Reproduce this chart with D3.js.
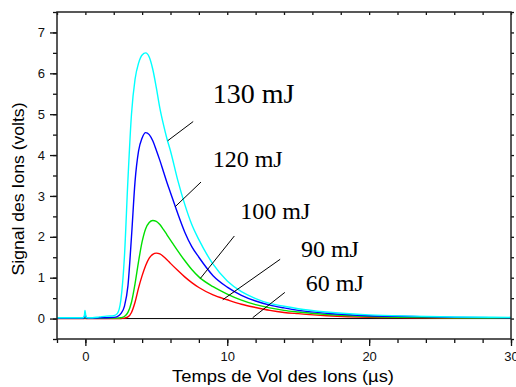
<!DOCTYPE html>
<html>
<head>
<meta charset="utf-8">
<script src="https://cdn.jsdelivr.net/npm/d3@7"></script>
<style>
  body { margin: 0; background: #fff; }
  svg { display: block; }
</style>
</head>
<body>
<div id="chart"></div>
<script>
// temps de vol (µs)
const temps = [-2, -1, -0.2, -0.08, -0.03, 0.05, 0.2, 0.5, 1, 1.5, 2, 2.25, 2.5, 2.75, 3, 3.25, 3.5, 3.75, 4, 4.25, 4.5, 4.75, 5, 5.25, 5.5, 5.75, 6, 6.5, 7, 7.5, 8, 9, 10, 11, 12, 13, 14, 15, 17, 20, 23, 26, 30];

// signaux (volts), un tableau par courbe
const signalRouge = [0, 0, 0, 0, 0.02, 0, 0, 0, 0, 0, 0, 0, 0, 0.01, 0.04, 0.15, 0.4, 0.75, 1.05, 1.3, 1.48, 1.57, 1.6, 1.58, 1.52, 1.44, 1.35, 1.18, 1.02, 0.88, 0.76, 0.58, 0.46, 0.35, 0.27, 0.2, 0.15, 0.12, 0.07, 0.03, 0.02, 0.01, 0.01];
const signalVert  = [0.01, 0.01, 0.01, 0.01, 0.04, 0.01, 0.01, 0.01, 0.01, 0.01, 0.01, 0.01, 0.02, 0.05, 0.15, 0.4, 0.85, 1.4, 1.88, 2.2, 2.35, 2.4, 2.38, 2.3, 2.18, 2.05, 1.92, 1.66, 1.42, 1.2, 1.02, 0.78, 0.6, 0.45, 0.34, 0.26, 0.2, 0.16, 0.1, 0.05, 0.03, 0.02, 0.01];
const signalBleu  = [0.01, 0.01, 0.01, 0.02, 0.12, 0.02, 0.01, 0.01, 0.02, 0.02, 0.03, 0.05, 0.12, 0.3, 0.8, 2.0, 3.35, 4.1, 4.42, 4.55, 4.5, 4.35, 4.12, 3.87, 3.6, 3.33, 3.08, 2.58, 2.12, 1.76, 1.5, 1.05, 0.77, 0.57, 0.43, 0.33, 0.26, 0.2, 0.13, 0.07, 0.05, 0.03, 0.02];
const signalCyan  = [0.02, 0.02, 0.02, 0.05, 0.2, 0.03, 0.02, 0.02, 0.04, 0.06, 0.07, 0.12, 0.45, 1.5, 3.4, 5.0, 5.85, 6.25, 6.45, 6.5, 6.4, 6.1, 5.65, 5.15, 4.75, 4.4, 4.1, 3.4, 2.8, 2.3, 1.93, 1.33, 0.92, 0.66, 0.49, 0.37, 0.3, 0.24, 0.16, 0.09, 0.06, 0.04, 0.03];

const series = [
  {valeurs: signalRouge, couleur: "#ff0000"},
  {valeurs: signalVert, couleur: "#00e000"},
  {valeurs: signalBleu, couleur: "#0000ff"},
  {valeurs: signalCyan, couleur: "#00ffff"}
];

// annotations : texte, position du texte, trait (début -> fin)
const etiquettes = ["130 mJ", "120 mJ", "100 mJ", "90 mJ", "60 mJ"];
const etiquetteX = [8.97, 8.97, 10.92, 15.19, 15.54];
const etiquetteY = [5.28, 3.70, 2.43, 1.51, 0.67];
const etiquetteTaille = [28, 24, 24, 24, 24];
const traitDebut = [[5.8, 4.35], [6.34, 2.74], [8.1, 0.98], [9.68, 0.46], [11.79, 0.02]];
const traitFin = [[7.6, 4.82], [8.15, 3.34], [10.5, 2.02], [13.73, 1.45], [14.06, 0.64]];

const xTicksMaj = [0, 10, 20, 30];
const yTicksMaj = [0, 1, 2, 3, 4, 5, 6, 7];

// Dimensions et marges
var margin = {top: 12, right: 5, bottom: 48, left: 57},
  width = 516 - margin.left - margin.right,
  height = 387 - margin.top - margin.bottom;

var svg = d3.select("#chart")
  .append("svg")
  .attr("width", 516)
  .attr("height", 387)
  .append("g")
  .attr("transform", "translate(" + margin.left + "," + margin.top + ")");

var x = d3.scaleLinear().domain([-2, 30]).range([0, width]);
var y = d3.scaleLinear().domain([-0.5, 7.5]).range([height, 0]);

const sans = "'Liberation Sans', Arial, sans-serif";
const serif = "'Liberation Serif', 'Times New Roman', serif";

// ticks mineurs
var xMin = d3.range(-2, 31, 2);
var yMin = d3.range(-0.5, 7.6, 0.5);

function styleAxe(g) {
  g.select(".domain").remove();
  g.selectAll("line").attr("stroke", "#111").attr("stroke-width", 1.3);
  g.selectAll("text").style("font-family", sans).style("font-size", "13px").attr("fill", "#111");
}

// axe bas
svg.append("g")
  .attr("transform", "translate(0," + height + ")")
  .call(d3.axisBottom(x).tickValues(xMin).tickSize(4).tickFormat(""))
  .call(styleAxe);
svg.append("g")
  .attr("transform", "translate(0," + height + ")")
  .call(d3.axisBottom(x).tickValues(xTicksMaj).tickSize(7).tickPadding(6).tickFormat(d3.format("d")))
  .call(styleAxe);

// axe haut
svg.append("g")
  .call(d3.axisTop(x).tickValues(xMin).tickSize(-3).tickFormat(""))
  .call(styleAxe);

// axe gauche
svg.append("g")
  .call(d3.axisLeft(y).tickValues(yMin).tickSize(4).tickFormat(""))
  .call(styleAxe);
svg.append("g")
  .call(d3.axisLeft(y).tickValues(yTicksMaj).tickSize(7).tickPadding(5).tickFormat(d3.format("d")))
  .call(styleAxe);

// axe droit
svg.append("g")
  .attr("transform", "translate(" + width + ",0)")
  .call(d3.axisRight(y).tickValues(yMin).tickSize(3).tickFormat(""))
  .call(styleAxe);

// ligne zéro
svg.append("line")
  .attr("x1", 0).attr("x2", width)
  .attr("y1", y(0)).attr("y2", y(0))
  .attr("stroke", "#000").attr("stroke-width", 1);

// courbes
var line = d3.line()
  .x(function(d, i) { return x(temps[i]); })
  .y(function(d) { return y(d); })
  .curve(d3.curveMonotoneX);

series.forEach(function(s) {
  svg.append("path")
    .datum(s.valeurs)
    .attr("fill", "none")
    .attr("stroke", s.couleur)
    .attr("stroke-width", 1.4)
    .attr("d", line);
});

// cadre
svg.append("rect")
  .attr("width", width).attr("height", height)
  .attr("fill", "none").attr("stroke", "#222").attr("stroke-width", 1.5);

// annotations
etiquettes.forEach(function(t, i) {
  svg.append("line")
    .attr("x1", x(traitDebut[i][0])).attr("y1", y(traitDebut[i][1]))
    .attr("x2", x(traitFin[i][0])).attr("y2", y(traitFin[i][1]))
    .attr("stroke", "#000").attr("stroke-width", 1);
  svg.append("text")
    .attr("x", x(etiquetteX[i]))
    .attr("y", y(etiquetteY[i]))
    .style("font-family", serif)
    .style("font-size", etiquetteTaille[i] + "px")
    .attr("fill", "#000")
    .text(t);
});

// titres des axes
svg.append("text")
  .attr("x", (x(-2) + x(30)) / 2 - 1)
  .attr("y", height + 43)
  .attr("text-anchor", "middle")
  .attr("textLength", 222)
  .attr("lengthAdjust", "spacingAndGlyphs")
  .style("font-family", sans)
  .style("font-size", "16px")
  .text("Temps de Vol des Ions (µs)");

svg.append("text")
  .attr("transform", "translate(" + (-margin.left + 24) + "," + (189 - margin.top) + ") rotate(-90)")
  .attr("text-anchor", "middle")
  .attr("textLength", 173)
  .attr("lengthAdjust", "spacingAndGlyphs")
  .style("font-family", sans)
  .style("font-size", "16.5px")
  .text("Signal des Ions (volts)");
</script>
</body>
</html>
